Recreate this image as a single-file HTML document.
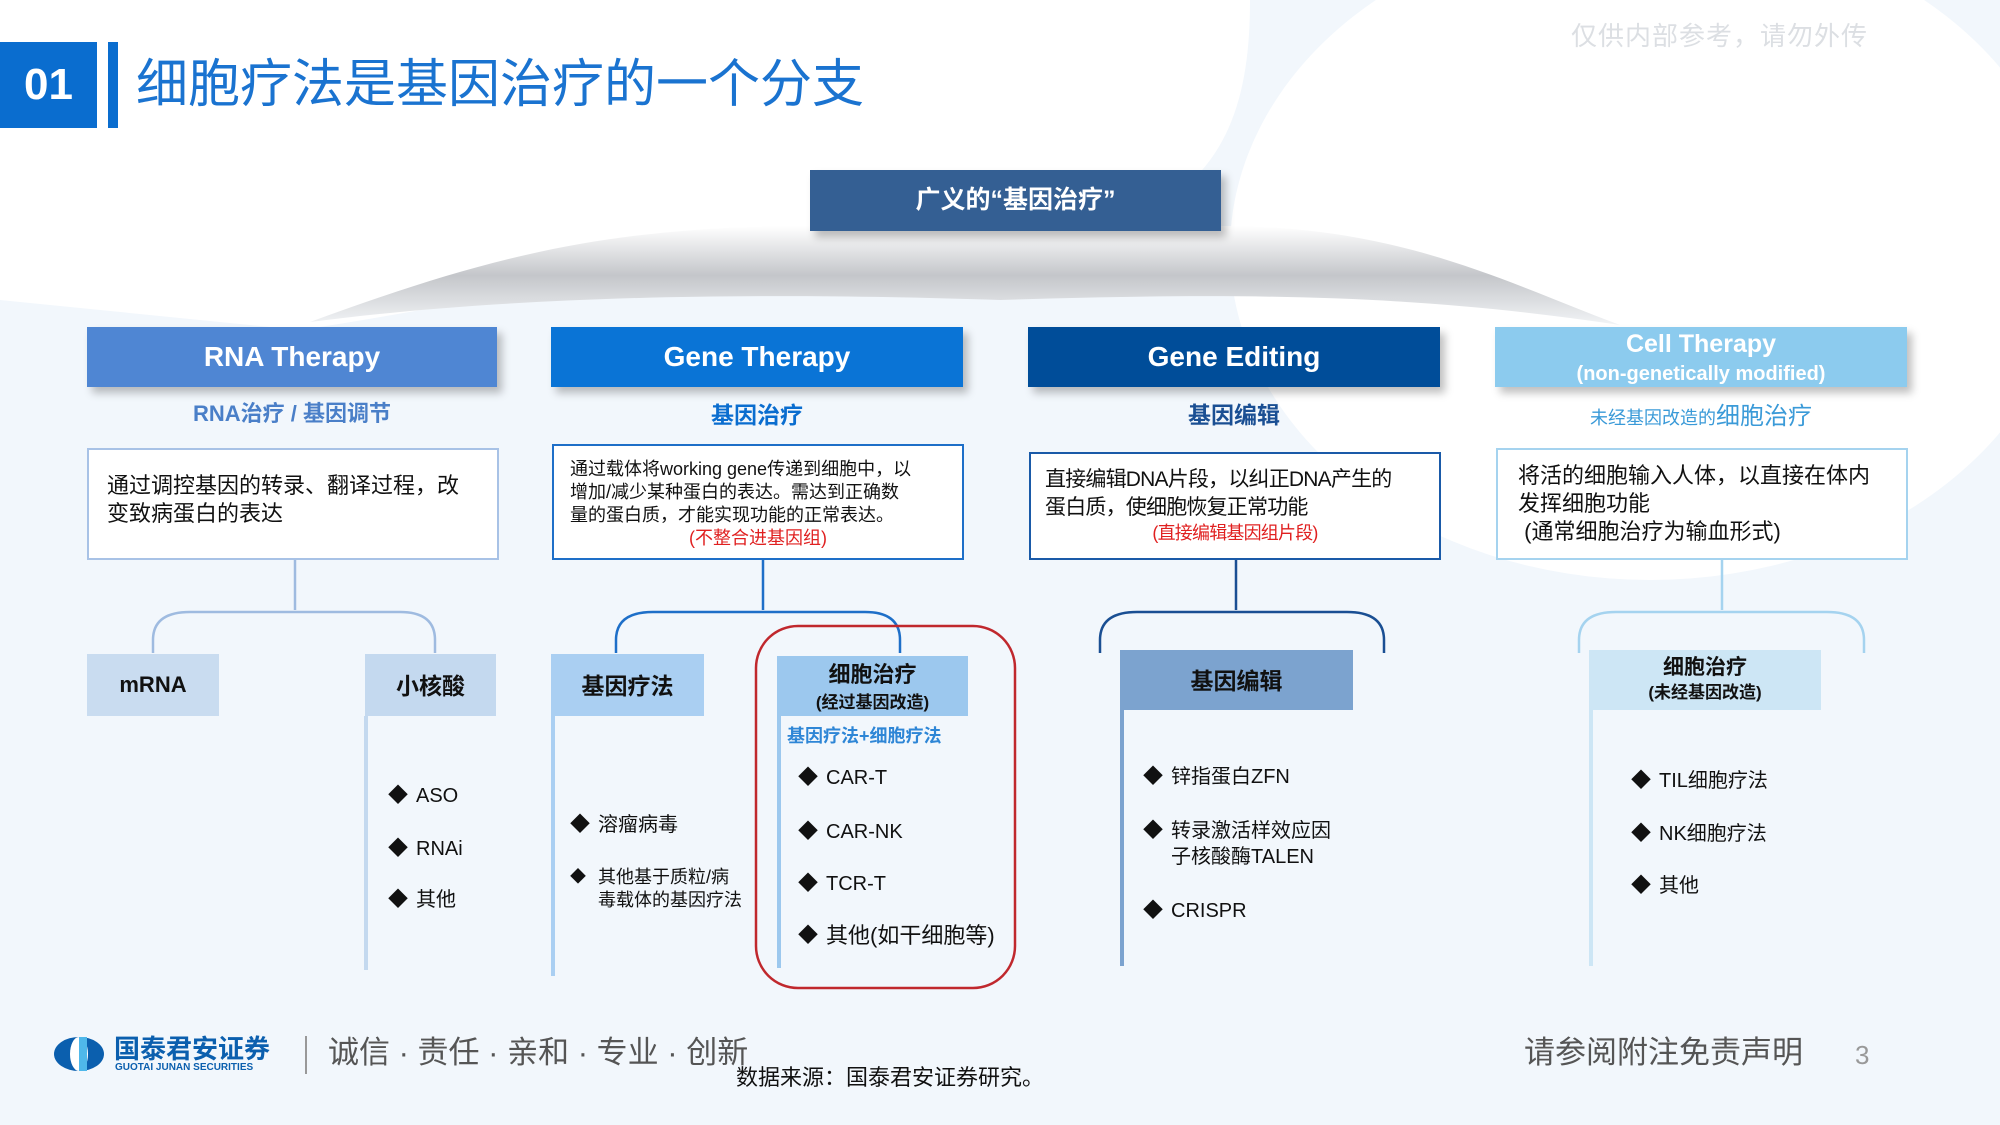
<!DOCTYPE html>
<html><head><meta charset="utf-8">
<style>
*{margin:0;padding:0;box-sizing:border-box}
body{width:2000px;height:1125px;overflow:hidden;background:#f2f7fc;font-family:"Liberation Sans","Noto Sans CJK SC",sans-serif;position:relative}
.a{position:absolute;white-space:nowrap}
.hdr{position:absolute;color:#fff;font-weight:bold;text-align:center;box-shadow:5px 6px 8px rgba(0,0,0,.25)}
.desc{position:absolute;background:#fff;font-size:22px;line-height:28px;color:#111;padding:20px 18px}
.sub{position:absolute;font-weight:bold;text-align:center;color:#111}
.vl{position:absolute;width:4px}
.li{position:absolute;font-size:20px;color:#111;white-space:nowrap;line-height:24px}
.li b{position:absolute;left:-28px;top:0;font-size:20px}
</style></head><body>
<svg class="a" style="left:0;top:0" width="2000" height="1125">
<defs>
<linearGradient id="sw" x1="0" y1="0" x2="0" y2="1">
<stop offset="0" stop-color="#ffffff"/><stop offset="0.5" stop-color="#c4c6ca"/><stop offset="1" stop-color="#f2f4f6"/></linearGradient>
</defs>
<path d="M620 0 C1250 120 1250 330 2000 420 L2000 1125 L0 1125 L0 0Z" fill="#f2f7fc"/>
<ellipse cx="1650" cy="250" rx="420" ry="330" fill="#ffffff"/>
<path d="M0 0 L1250 0 C1250 150 1200 260 900 250 C700 250 500 300 300 330 L0 300Z" fill="#ffffff"/>
<path d="M310 322 C480 260 600 226 810 226 L1221 226 C1400 226 1500 280 1620 325 C1450 300 1300 290 1000 300 C700 290 480 300 310 322Z" fill="url(#sw)"/>
<g fill="none" stroke-width="2.5">
<path d="M295 559 V610 M153 653 V640 Q153 612 190 612 H400 Q435 612 435 640 V653" stroke="#9fbbe0"/>
<path d="M763 559 V610 M616 653 V640 Q616 612 653 612 H865 Q900 612 900 640 V653" stroke="#1e6fc8"/>
<path d="M1236 559 V610 M1100 653 V640 Q1100 612 1137 612 H1347 Q1384 612 1384 640 V653" stroke="#1a4f93"/>
<path d="M1722 559 V610 M1579 653 V640 Q1579 612 1616 612 H1827 Q1864 612 1864 640 V653" stroke="#a5d3ef"/>
</g>
<rect x="756" y="626" width="259" height="362" rx="42" fill="none" stroke="#c0282d" stroke-width="2.5"/>
</svg>

<div class="a" style="left:0;top:42px;width:97px;height:86px;background:#0a6dcf;color:#fff;font-size:44px;font-weight:bold;line-height:86px;text-align:center">01</div>
<div class="a" style="left:108px;top:42px;width:10px;height:86px;background:#0a6dcf"></div>
<div class="a" style="left:136px;top:52px;font-size:52px;line-height:66px;color:#1a73d0">细胞疗法是基因治疗的一个分支</div>
<div class="a" style="left:1571px;top:16px;font-size:26px;color:#dcdfe3;letter-spacing:1px">仅供内部参考，请勿外传</div>

<div class="hdr" style="left:810px;top:170px;width:411px;height:61px;background:#345f93;font-size:25px;line-height:61px">广义的“基因治疗”</div>

<div class="hdr" style="left:87px;top:327px;width:410px;height:60px;background:#4f86d3;font-size:28px;line-height:60px">RNA Therapy</div>
<div class="hdr" style="left:551px;top:327px;width:412px;height:60px;background:#0a74d6;font-size:28px;line-height:60px">Gene Therapy</div>
<div class="hdr" style="left:1028px;top:327px;width:412px;height:60px;background:#004d99;font-size:28px;line-height:60px">Gene Editing</div>
<div class="hdr" style="left:1495px;top:327px;width:412px;height:60px;background:#8ccbee;font-size:25px;line-height:28px;padding-top:3px">Cell Therapy<br><span style="font-size:20px">(non-genetically modified)</span></div>

<div class="a" style="left:87px;width:410px;top:396px;text-align:center;font-size:22px;color:#4a7fc8;font-weight:bold">RNA治疗 / 基因调节</div>
<div class="a" style="left:551px;width:412px;top:396px;text-align:center;font-size:23px;color:#0a6dcf;font-weight:bold">基因治疗</div>
<div class="a" style="left:1028px;width:412px;top:396px;text-align:center;font-size:23px;color:#1a4f93;font-weight:bold">基因编辑</div>
<div class="a" style="left:1495px;width:412px;top:396px;text-align:center;font-size:18px;color:#3a9ad8">未经基因改造的<span style="font-size:24px">细胞治疗</span></div>

<div class="desc" style="left:87px;top:448px;width:412px;height:112px;border:2px solid #a8c2e6;padding-top:22px">通过调控基因的转录、翻译过程，改<br>变致病蛋白的表达</div>
<div class="desc" style="left:552px;top:444px;width:412px;height:116px;border:2.5px solid #1e6fc8;font-size:18px;line-height:23px;padding:12px 16px">通过载体将working gene传递到细胞中，以<br>增加/减少某种蛋白的表达。需达到正确数<br>量的蛋白质，才能实现功能的正常表达。<br><span style="color:#e02020;display:block;text-align:center">(不整合进基因组)</span></div>
<div class="desc" style="left:1029px;top:452px;width:412px;height:108px;border:2.5px solid #1a5aa8;padding:12px 14px;font-size:21px;letter-spacing:-0.8px">直接编辑DNA片段，以纠正DNA产生的<br>蛋白质，使细胞恢复正常功能<br><span style="color:#e02020;display:block;text-align:center;font-size:18px;line-height:22px">(直接编辑基因组片段)</span></div>
<div class="desc" style="left:1496px;top:448px;width:412px;height:112px;border:2px solid #a5d3ef;padding:12px 20px">将活的细胞输入人体，以直接在体内<br>发挥细胞功能<br>&nbsp;(通常细胞治疗为输血形式)</div>

<div class="sub" style="left:87px;top:654px;width:132px;height:62px;background:#c9dcf0;font-size:22px;line-height:62px">mRNA</div>
<div class="sub" style="left:365px;top:654px;width:131px;height:62px;background:#c4d9ef;font-size:23px;line-height:64px">小核酸</div>
<div class="sub" style="left:551px;top:654px;width:153px;height:62px;background:#aacff2;font-size:23px;line-height:64px">基因疗法</div>
<div class="sub" style="left:777px;top:656px;width:191px;height:60px;background:#9cc8ee;font-size:22px;line-height:26px;padding-top:6px">细胞治疗<br><span style="font-size:17px">(经过基因改造)</span></div>
<div class="sub" style="left:1120px;top:650px;width:233px;height:60px;background:#7ca3cf;font-size:23px;line-height:62px">基因编辑</div>
<div class="sub" style="left:1589px;top:650px;width:232px;height:60px;background:#cde6f5;font-size:21px;line-height:24px;padding-top:6px">细胞治疗<br><span style="font-size:17px">(未经基因改造)</span></div>

<div class="vl" style="left:364px;top:716px;height:254px;background:#c4d9ef"></div>
<div class="vl" style="left:551px;top:716px;height:260px;background:#aacff2"></div>
<div class="vl" style="left:777px;top:716px;height:252px;background:#9cc8ee"></div>
<div class="vl" style="left:1120px;top:710px;height:256px;background:#7ca3cf"></div>
<div class="vl" style="left:1589px;top:710px;height:256px;background:#cde6f5"></div>

<div class="li" style="left:416px;top:784px"><b>◆</b>ASO</div>
<div class="li" style="left:416px;top:837px"><b>◆</b>RNAi</div>
<div class="li" style="left:416px;top:888px"><b>◆</b>其他</div>

<div class="li" style="left:598px;top:813px"><b>◆</b>溶瘤病毒</div>
<div class="li" style="left:598px;top:866px;font-size:18px;line-height:23px"><b style="font-size:16px">◆</b>其他基于质粒/病<br>毒载体的基因疗法</div>

<div class="a" style="left:787px;top:722px;font-size:18px;color:#2e86d6;font-weight:bold">基因疗法+细胞疗法</div>
<div class="li" style="left:826px;top:766px"><b>◆</b>CAR-T</div>
<div class="li" style="left:826px;top:820px"><b>◆</b>CAR-NK</div>
<div class="li" style="left:826px;top:872px"><b>◆</b>TCR-T</div>
<div class="li" style="left:826px;top:924px;font-size:22px"><b>◆</b>其他(如干细胞等)</div>

<div class="li" style="left:1171px;top:765px"><b>◆</b>锌指蛋白ZFN</div>
<div class="li" style="left:1171px;top:818px;line-height:26px"><b>◆</b>转录激活样效应因<br>子核酸酶TALEN</div>
<div class="li" style="left:1171px;top:899px"><b>◆</b>CRISPR</div>

<div class="li" style="left:1659px;top:769px"><b>◆</b>TIL细胞疗法</div>
<div class="li" style="left:1659px;top:822px"><b>◆</b>NK细胞疗法</div>
<div class="li" style="left:1659px;top:874px"><b>◆</b>其他</div>

<svg class="a" style="left:52px;top:1036px" width="54" height="36"><ellipse cx="27" cy="18" rx="25" ry="17" fill="#0b5fae"/><ellipse cx="27" cy="18" rx="9" ry="17" fill="#fff"/><rect x="27" y="1" width="8" height="34" fill="#4fb8ea"/></svg>
<div class="a" style="left:114px;top:1034px;font-size:26px;font-weight:bold;color:#0b5fae;line-height:30px">国泰君安证券</div>
<div class="a" style="left:115px;top:1062px;font-size:10px;color:#0b5fae;font-weight:bold">GUOTAI JUNAN SECURITIES</div>
<div class="a" style="left:305px;top:1036px;width:2px;height:38px;background:#999"></div>
<div class="a" style="left:328px;top:1034px;font-size:31px;color:#555;line-height:38px">诚信 · 责任 · 亲和 · 专业 · 创新</div>
<div class="a" style="left:736px;top:1060px;font-size:22px;color:#111">数据来源：国泰君安证券研究。</div>
<div class="a" style="left:1524px;top:1034px;font-size:31px;color:#555;line-height:38px">请参阅附注免责声明</div>
<div class="a" style="left:1855px;top:1040px;font-size:26px;color:#999">3</div>
</body></html>
